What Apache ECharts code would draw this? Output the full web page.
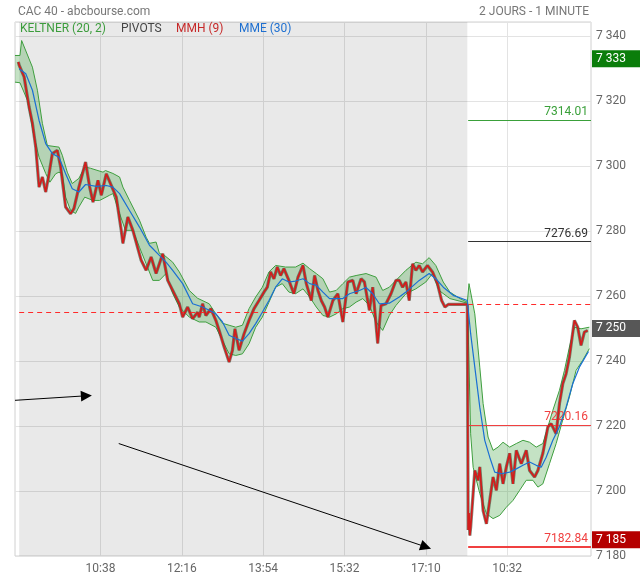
<!DOCTYPE html>
<html><head><meta charset="utf-8">
<script src="https://cdn.jsdelivr.net/npm/echarts@6/dist/echarts.min.js"></script>
<style>html,body{margin:0;padding:0;background:#fff}#c{width:640px;height:580px}</style>
</head><body><div id="c"></div>
<script>
// ---- sessions (1-minute categories) ----
const sessions = [{ day: 1, start: '08:55', count: 546 }, { day: 2, start: '09:45', count: 149 }];
const labelFirst = 103, labelStep = 98, labelLast = 650;
// ---- Keltner (20,2) upper / lower, [minute index, value] ----
const keltnerUpper = [[0,7334.0],[6,7334.0],[8,7338.6],[21,7330.4],[27,7323.3],[33,7313.1],[39,7306.3],[53,7305.8],[57,7303.3],[63,7298.1],[69,7294.6],[77,7296.2],[84,7299.7],[91,7299.3],[106,7298.1],[109,7298.6],[118,7297.7],[126,7296.6],[130,7293.5],[138,7289.4],[150,7283.3],[158,7278.1],[162,7276.2],[170,7276.6],[174,7273.1],[180,7272.5],[190,7270.4],[198,7267.4],[210,7261.7],[220,7259.3],[234,7257.6],[242,7254.5],[250,7251.6],[258,7251.0],[266,7250.4],[274,7251.0],[282,7256.1],[290,7259.7],[298,7262.7],[306,7267.4],[314,7269.4],[326,7268.9],[338,7268.9],[347,7270.1],[355,7268.4],[363,7266.9],[371,7265.3],[379,7261.2],[387,7261.7],[395,7263.8],[403,7265.8],[411,7266.3],[423,7266.9],[435,7265.8],[443,7261.7],[451,7262.7],[459,7264.8],[471,7267.9],[483,7270.4],[491,7269.9],[499,7271.8],[507,7269.4],[516,7264.3],[524,7261.2],[536,7259.2],[545,7258.1],
[547,7263.8],[554,7254.5],[560,7238.1],[564,7226.9],[570,7216.6],[576,7212.5],[582,7213.5],[588,7215.0],[596,7213.5],[604,7214.6],[612,7215.6],[620,7215.0],[628,7213.5],[636,7214.6],[642,7219.7],[648,7224.8],[656,7231.0],[662,7237.1],[668,7244.3],[674,7250.4],[682,7249.9],[692,7250.4]];
const keltnerLower = [[0,7325.8],[6,7325.6],[15,7320.2],[23,7308.9],[29,7302.7],[37,7297.7],[42,7295.0],[49,7297.6],[53,7298.1],[57,7297.6],[61,7290.4],[67,7286.3],[73,7285.4],[77,7287.4],[84,7290.4],[94,7289.4],[102,7289.4],[114,7291.0],[118,7291.5],[126,7285.4],[133,7280.2],[142,7280.2],[150,7275.0],[158,7269.9],[166,7264.8],[174,7264.8],[182,7266.9],[190,7260.8],[198,7256.6],[210,7253.5],[222,7252.0],[230,7252.0],[242,7250.4],[250,7246.3],[258,7242.2],[266,7241.7],[274,7242.2],[282,7245.3],[290,7250.4],[298,7253.5],[306,7258.1],[314,7262.7],[322,7263.8],[330,7261.2],[338,7260.7],[347,7262.2],[355,7259.7],[363,7256.6],[371,7254.0],[379,7253.5],[387,7254.5],[395,7256.1],[403,7256.6],[411,7258.1],[419,7259.2],[427,7257.1],[435,7252.0],[443,7249.4],[451,7254.0],[459,7257.1],[471,7260.7],[483,7262.2],[495,7264.3],[503,7266.9],[511,7261.7],[524,7259.2],[536,7258.4],[545,7257.8],
[546,7250.0],[549,7217.6],[552,7207.3],[560,7199.2],[568,7193.0],[576,7191.5],[584,7192.5],[592,7195.0],[600,7197.1],[608,7200.2],[616,7203.3],[624,7203.3],[630,7201.2],[636,7202.2],[644,7208.4],[652,7214.6],[660,7221.9],[668,7228.9],[676,7237.1],[684,7240.2],[692,7243.8]];
// ---- MME (30) ----
const mme = [[5,7329.9],[13,7328.4],[21,7323.3],[29,7314.0],[37,7306.9],[45,7303.8],[53,7302.7],[61,7297.6],[69,7293.0],[77,7292.0],[85,7294.3],[98,7293.7],[110,7294.0],[118,7293.5],[126,7291.5],[138,7286.3],[150,7281.2],[162,7275.6],[174,7272.5],[182,7270.4],[190,7267.9],[202,7263.8],[214,7257.6],[226,7256.6],[234,7255.6],[242,7254.5],[250,7252.0],[258,7247.9],[266,7246.9],[274,7246.1],[282,7248.4],[290,7251.5],[298,7255.0],[306,7258.6],[314,7262.7],[322,7265.3],[330,7264.3],[338,7264.6],[347,7265.3],[355,7263.8],[363,7263.3],[371,7261.2],[379,7259.2],[387,7259.2],[395,7259.2],[403,7260.7],[415,7261.7],[423,7262.6],[431,7260.7],[439,7257.6],[451,7257.8],[463,7259.7],[471,7261.2],[487,7264.8],[499,7266.9],[507,7265.3],[516,7262.7],[528,7260.2],[545,7258.6],
[549,7248.4],[554,7238.1],[560,7225.8],[566,7215.6],[572,7210.4],[578,7205.8],[586,7205.3],[596,7205.8],[604,7206.8],[612,7207.9],[620,7208.9],[628,7207.9],[634,7207.3],[640,7210.4],[648,7215.6],[656,7219.8],[664,7225.8],[672,7233.0],[680,7238.1],[691,7242.9]];
// ---- MMH (9) / cours ----
const mmh = [[4,7332.0],[5,7331.0],[11,7327.4],[17,7318.1],[21,7313.1],[25,7305.8],[29,7293.5],[33,7296.6],[37,7292.0],[41,7297.6],[45,7303.8],[51,7304.8],[55,7299.7],[61,7287.4],[67,7285.3],[71,7286.9],[77,7293.5],[85,7301.2],[90,7293.5],[94,7288.9],[100,7295.6],[104,7291.0],[110,7297.6],[116,7294.0],[122,7290.4],[128,7280.2],[130,7276.2],[136,7284.3],[142,7280.2],[152,7271.0],[158,7267.9],[164,7272.0],[170,7266.9],[178,7273.0],[184,7264.8],[190,7261.7],[198,7257.6],[202,7253.5],[208,7256.6],[214,7253.0],[220,7255.0],[222,7253.5],[226,7257.6],[230,7254.0],[236,7256.1],[242,7252.5],[246,7249.4],[252,7244.3],[258,7239.7],[262,7243.3],[265,7249.9],[270,7243.3],[276,7248.4],[282,7252.5],[288,7256.1],[294,7258.6],[300,7261.2],[304,7262.7],[308,7267.4],[312,7265.3],[316,7268.9],[320,7266.3],[324,7268.4],[330,7264.8],[336,7260.7],[341,7265.8],[347,7269.4],[351,7263.8],[357,7258.6],[361,7266.3],[365,7261.7],[369,7258.6],[373,7256.6],[377,7253.5],[383,7258.6],[389,7260.7],[395,7252.0],[401,7264.3],[407,7264.8],[411,7260.7],[417,7265.3],[421,7264.3],[427,7255.6],[431,7262.7],[437,7245.4],[441,7257.1],[447,7257.6],[453,7260.7],[459,7264.8],[463,7264.8],[467,7262.7],[471,7264.3],[475,7258.6],[479,7269.9],[483,7267.9],[487,7269.4],[491,7267.4],[497,7269.4],[503,7267.4],[509,7263.8],[514,7258.6],[518,7256.6],[522,7257.4],[545,7257.4],
[546,7188.0],[547,7193.2],[548,7186.3],[549,7188.9],[554,7206.3],[558,7203.3],[560,7207.4],[564,7194.0],[568,7189.9],[572,7197.1],[576,7204.3],[580,7200.2],[584,7208.4],[588,7202.2],[592,7207.4],[596,7211.6],[600,7202.2],[604,7212.5],[610,7208.4],[616,7212.5],[620,7206.3],[626,7204.3],[630,7206.3],[636,7211.6],[642,7219.7],[646,7220.7],[652,7217.6],[656,7226.9],[660,7233.0],[664,7236.1],[668,7241.2],[674,7252.5],[678,7250.4],[682,7244.8],[686,7248.9],[690,7249.4]];
const cours = mmh;
// ---- pivots (day 2) ----
const pivots = [{ value: 7314.01, color: '#3aa03a', width: 1 }, { value: 7276.69, color: '#333333', width: 1 }, { value: 7220.16, color: '#f04040', width: 1 }, { value: 7182.84, color: '#f04040', width: 2 }];
const prevClose = [{ from: 5, to: 545, value: 7254.9 }, { from: 546, to: 694, value: 7257.4 }];
const priceTags = [{ value: 7333, text: '7 333', color: '#0b7d0b' }, { value: 7250, text: '7 250', color: '#575757' }, { value: 7185, text: '7 185', color: '#b50000' }];
const arrows = [[[0, 7227.9], [86, 7229.3]], [[125, 7214.6], [495, 7182.8]]];
const day1Range = [5, 545];
const day2Start = 546;

// categories (unique keys "day|HH:MM")
const categories = [];
sessions.forEach(s => {
  let [h, m] = s.start.split(':').map(Number);
  for (let k = 0; k < s.count; k++) {
    categories.push(s.day + '|' + String(h).padStart(2, '0') + ':' + String(m).padStart(2, '0'));
    m++; if (m === 60) { m = 0; h++; }
  }
});
const lastIdx = categories.length - 1;
const showIdx = i => i >= labelFirst && i <= labelLast && (i - labelFirst) % labelStep === 0;
const fmt = v => String(v).replace(/\B(?=(\d{3})+(?!\d))/g, ' ');

const chart = echarts.init(document.getElementById('c'));
const FONT = 'Roboto';
chart.setOption({
  animation: false,
  textStyle: { fontFamily: FONT },
  title: [
    { text: 'CAC 40 - abcbourse.com', left: 13, top: 1, textStyle: { fontSize: 12, fontWeight: 'normal', color: '#777', fontFamily: FONT } },
    { text: '2 JOURS - 1 MINUTE', right: 51, top: 1, padding: [5, 0, 5, 0], textStyle: { fontSize: 12, fontWeight: 'normal', color: '#777', fontFamily: FONT } }
  ],
  grid: { left: 15, right: 49, top: 22, bottom: 24, show: true, borderColor: '#d0d0d0', borderWidth: 1, backgroundColor: 'transparent' },
  xAxis: {
    type: 'category', data: categories, boundaryGap: false,
    axisLine: { show: false }, axisTick: { show: false },
    axisLabel: { interval: showIdx, hideOverlap: false, color: '#666', fontSize: 12, margin: 7, fontFamily: FONT, formatter: v => v.split('|')[1] },
    splitLine: { show: true, interval: showIdx, lineStyle: { color: '#e3e3e3', width: 1 } }
  },
  yAxis: {
    type: 'value', position: 'right', min: 7180, max: 7344.3, interval: 20, scale: true,
    axisLine: { show: false }, axisTick: { show: false },
    axisLabel: { showMaxLabel: false, color: '#666', fontSize: 12, margin: 5, padding: [0, 0, 5, 0], formatter: fmt, fontFamily: FONT },
    splitLine: { show: true, lineStyle: { color: '#e3e3e3', width: 1 } }
  },
  graphic: [
    { type: 'text', x: 20, y: 29, style: { text: 'KELTNER (20, 2)', fill: '#3c9c3c', font: '12px Roboto', verticalAlign: 'middle' }, z: 100 },
    { type: 'text', x: 121, y: 29, style: { text: 'PIVOTS', fill: '#444', font: '12px Roboto', verticalAlign: 'middle' }, z: 100 },
    { type: 'text', x: 176, y: 29, style: { text: 'MMH (9)', fill: '#c62828', font: '12px Roboto', verticalAlign: 'middle' }, z: 100 },
    { type: 'text', x: 239, y: 29, style: { text: 'MME (30)', fill: '#1e6fd0', font: '12px Roboto', verticalAlign: 'middle' }, z: 100 }
  ],
  series: [
    {
      name: 'bg', type: 'line', data: [], z: 1, silent: true,
      markArea: { silent: true, itemStyle: { color: 'rgba(0,0,0,0.085)' }, data: [[{ xAxis: day1Range[0] }, { xAxis: day1Range[1] }]] }
    },
    {
      name: 'KELTNER band', type: 'custom', z: 2, silent: true,
      data: [[0, 7250]],
      renderItem: (params, api) => {
        const pts = keltnerUpper.map(p => api.coord(p)).concat(keltnerLower.slice().reverse().map(p => api.coord(p)));
        return { type: 'polygon', shape: { points: pts }, style: { fill: 'rgba(60,160,60,0.30)' } };
      }
    },
    { name: 'KELTNER haut', type: 'line', data: keltnerUpper, showSymbol: false, z: 3, lineStyle: { color: '#3e9e3e', width: 1 } },
    { name: 'KELTNER bas', type: 'line', data: keltnerLower, showSymbol: false, z: 3, lineStyle: { color: '#3e9e3e', width: 1 } },
    {
      name: 'cours', type: 'line', data: cours, showSymbol: false, z: 4,
      lineStyle: { color: 'rgba(75,85,65,0.7)', width: 3.2 },
      markLine: {
        silent: true, symbol: 'none', animation: false,
        data: [
          ...prevClose.map(d => [{ coord: [d.from, d.value], lineStyle: { color: '#ff2a2a', type: [5, 4], width: 1 }, label: { show: false } }, { coord: [d.to, d.value] }]),
          ...pivots.map(p => [{ coord: [day2Start, p.value], lineStyle: { color: p.color, type: 'solid', width: p.width }, label: { show: true, position: 'insideEndTop', formatter: p.value.toFixed(2), color: p.color, fontSize: 12, distance: [3, 2], fontFamily: FONT } }, { coord: [lastIdx, p.value] }])
        ]
      }
    },
    {
      name: 'MMH (9)', type: 'line', data: mmh, showSymbol: false, z: 5, clip: false, lineStyle: { color: '#d41c1c', width: 1.7 },
      markLine: {
        silent: true, symbol: 'none', animation: false,
        data: priceTags.map(t => ({ yAxis: t.value, lineStyle: { color: 'transparent', width: 1 }, label: { show: true, position: 'end', distance: 1, formatter: t.text, color: '#fff', backgroundColor: t.color, padding: [2, 16, 1, 4], fontSize: 12, lineHeight: 14, fontFamily: FONT } }))
      }
    },
    {
      name: 'MME (30)', type: 'line', data: mme, showSymbol: false, z: 6, lineStyle: { color: '#1a6fd4', width: 1.2 },
      markLine: {
        silent: true, animation: false, symbol: ['none', 'triangle'], symbolSize: 11,
        lineStyle: { color: '#000', width: 1, type: 'solid' }, label: { show: false },
        data: arrows.map(a => [{ coord: a[0] }, { coord: a[1] }])
      }
    }
  ]
});
</script></body></html>
